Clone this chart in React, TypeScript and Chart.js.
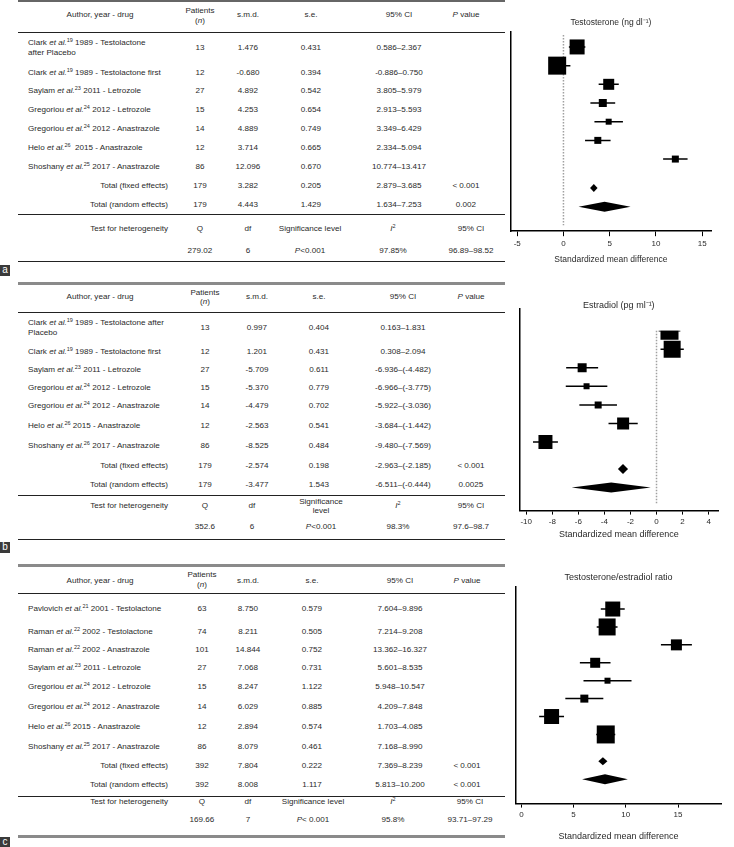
import React, { useEffect, useRef } from "react";
import { Chart, registerables } from "chart.js";
Chart.register(...registerables);

const FONT = "'Liberation Sans', Arial, Helvetica, sans-serif";
const TXT = "#2a2a2a";

// ---------- Panel a : Testosterone ----------
const A_AUTHORS = ["Clark", "Clark", "Saylam", "Gregoriou", "Gregoriou", "Helo", "Shoshany"];
const A_REFS = ["19", "19", "23", "24", "24", "26", "25"];
const A_DESC = ["1989 - Testolactone\nafter Placebo", "1989 - Testolactone first", "2011 - Letrozole", "2012 - Letrozole", "2012 - Anastrazole", " 2015 - Anastrazole", "2017 - Anastrazole"];
const A_N = [13, 12, 27, 15, 14, 12, 86];
const A_SMD = [1.476, -0.68, 4.892, 4.253, 4.889, 3.714, 12.096];
const A_SE = [0.431, 0.394, 0.542, 0.654, 0.749, 0.665, 0.67];
const A_LO = [0.586, -0.886, 3.805, 2.913, 3.349, 2.334, 10.774];
const A_HI = [2.367, 0.75, 5.979, 5.593, 6.429, 5.094, 13.417];
const A_TOT_N = [179, 179];
const A_TOT_SMD = [3.282, 4.443];
const A_TOT_SE = [0.205, 1.429];
const A_TOT_LO = [2.879, 1.634];
const A_TOT_HI = [3.685, 7.253];
const A_TOT_P = ["< 0.001", "0.002"];
const A_HET = ["279.02", "6", "P<0.001", "97.85%", "96.89–98.52"];
const A_TICKS = [-5, 0, 5, 10, 15];
const A_TITLE = "Testosterone (ng dl⁻¹)";

// ---------- Panel b : Estradiol ----------
const B_AUTHORS = ["Clark", "Clark", "Saylam", "Gregoriou", "Gregoriou", "Helo", "Shoshany"];
const B_REFS = ["19", "19", "23", "24", "24", "26", "26"];
const B_DESC = ["1989 - Testolactone after\nPlacebo", "1989 - Testolactone first", "2011 - Letrozole", "2012 - Letrozole", "2012 - Anastrazole", "2015 - Anastrazole", "2017 - Anastrazole"];
const B_N = [13, 12, 27, 15, 14, 12, 86];
const B_SMD = [0.997, 1.201, -5.709, -5.37, -4.479, -2.563, -8.525];
const B_SE = [0.404, 0.431, 0.611, 0.779, 0.702, 0.541, 0.484];
const B_LO = [0.163, 0.308, -6.936, -6.966, -5.922, -3.684, -9.48];
const B_HI = [1.831, 2.094, -4.482, -3.775, -3.036, -1.442, -7.569];
const B_TOT_N = [179, 179];
const B_TOT_SMD = [-2.574, -3.477];
const B_TOT_SE = [0.198, 1.543];
const B_TOT_LO = [-2.963, -6.511];
const B_TOT_HI = [-2.185, -0.444];
const B_TOT_P = ["< 0.001", "0.0025"];
const B_HET = ["352.6", "6", "P<0.001", "98.3%", "97.6–98.7"];
const B_TICKS = [-10, -8, -6, -4, -2, 0, 2, 4];
const B_TITLE = "Estradiol (pg ml⁻¹)";

// ---------- Panel c : Testosterone/estradiol ratio ----------
const C_AUTHORS = ["Pavlovich", "Raman", "Raman", "Saylam", "Gregoriou", "Gregoriou", "Helo", "Shoshany"];
const C_REFS = ["21", "22", "22", "23", "24", "24", "26", "25"];
const C_DESC = ["2001 - Testolactone", "2002 - Testolactone", "2002 - Anastrazole", "2011 - Letrozole", "2012 - Letrozole", "2012 - Anastrazole", "2015 - Anastrazole", "2017 - Anastrazole"];
const C_N = [63, 74, 101, 27, 15, 14, 12, 86];
const C_SMD = [8.75, 8.211, 14.844, 7.068, 8.247, 6.029, 2.894, 8.079];
const C_SE = [0.579, 0.505, 0.752, 0.731, 1.122, 0.885, 0.574, 0.461];
const C_LO = [7.604, 7.214, 13.362, 5.601, 5.948, 4.209, 1.703, 7.168];
const C_HI = [9.896, 9.208, 16.327, 8.535, 10.547, 7.848, 4.085, 8.99];
const C_TOT_N = [392, 392];
const C_TOT_SMD = [7.804, 8.008];
const C_TOT_SE = [0.222, 1.117];
const C_TOT_LO = [7.369, 5.813];
const C_TOT_HI = [8.239, 10.2];
const C_TOT_P = ["< 0.001", "< 0.001"];
const C_HET = ["169.66", "7", "P< 0.001", "95.8%", "93.71–97.29"];
const C_TICKS = [0, 5, 10, 15];
const C_TITLE = "Testosterone/estradiol ratio";

const TOT_LABELS = ["Total (fixed effects)", "Total (random effects)"];
const X_TITLE = "Standardized mean difference";

const PANELS = [
  { authors: A_AUTHORS, refs: A_REFS, desc: A_DESC, n: A_N, smd: A_SMD, se: A_SE, lo: A_LO, hi: A_HI, totN: A_TOT_N, totSmd: A_TOT_SMD, totSe: A_TOT_SE, totLo: A_TOT_LO, totHi: A_TOT_HI, totP: A_TOT_P, het: A_HET, ticks: A_TICKS, title: A_TITLE },
  { authors: B_AUTHORS, refs: B_REFS, desc: B_DESC, n: B_N, smd: B_SMD, se: B_SE, lo: B_LO, hi: B_HI, totN: B_TOT_N, totSmd: B_TOT_SMD, totSe: B_TOT_SE, totLo: B_TOT_LO, totHi: B_TOT_HI, totP: B_TOT_P, het: B_HET, ticks: B_TICKS, title: B_TITLE },
  { authors: C_AUTHORS, refs: C_REFS, desc: C_DESC, n: C_N, smd: C_SMD, se: C_SE, lo: C_LO, hi: C_HI, totN: C_TOT_N, totSmd: C_TOT_SMD, totSe: C_TOT_SE, totLo: C_TOT_LO, totHi: C_TOT_HI, totP: C_TOT_P, het: C_HET, ticks: C_TICKS, title: C_TITLE },
];

// ---------- layout / style (not data) ----------
const TABLE_LAYOUT = [
  {
    top: 0, topH: 2, topColor: "#666", header: 15, patients: 16, patientsLH: 10, headerLine: 32,
    rows: [48, 73, 91, 110, 129, 148, 167], totals: [186, 205], hetLine: 214, hetHead: 229, hetVal: 251,
    bottom: 261, bottomGrey: false, label: "a", labelY: 265,
    cols: { name: 28, totRight: 168, author: 100, n: 200, smd: 248, se: 311, ci: 399, p: 466 },
    hetCols: [200, 248, 310, 393, 471], sigTwoLine: false,
  },
  {
    top: 282, topH: 3, topColor: "#8a8a8a", header: 297, patients: 296.5, patientsLH: 9.5, headerLine: 312,
    rows: [328, 352, 370, 388, 406, 426, 446], totals: [466, 485], hetLine: 495, hetHead: 506, hetVal: 527,
    bottom: 539, bottomGrey: false, label: "b", labelY: 542,
    cols: { name: 28, totRight: 168, author: 100, n: 205, smd: 257, se: 319, ci: 403, p: 471 },
    hetCols: [205, 252, 321, 398, 471], sigTwoLine: true,
  },
  {
    top: 564, topH: 3, topColor: "#8a8a8a", header: 581, patients: 580, patientsLH: 10, headerLine: 593,
    rows: [609, 632, 650, 668, 687, 707, 727, 747], totals: [766, 785], hetLine: 796, hetHead: 802, hetVal: 820,
    bottom: 835, bottomGrey: true, label: "c", labelY: 837,
    cols: { name: 28, totRight: 168, author: 100, n: 202, smd: 248, se: 312, ci: 400, p: 467 },
    hetCols: [202, 248, 313, 393, 470], sigTwoLine: false,
  },
];

const CHART_LAYOUT = [
  {
    left: 498, top: 10, width: 236, height: 257, pad: { left: 12, right: 23, top: 0, bottom: 0 },
    titleSize: 8.5, titlePad: { top: 8, bottom: 3.8 }, xTitleSize: 8.5, xTitlePad: { top: 3, bottom: 2 },
    tickLength: 5, tickPad: 3, xMin: -5.7, xMax: 15.95, yMin: -0.8, yMax: 9.86, gap: 0.55,
    boxes: [15, 18, 11, 8, 6, 7, 7], dh: [4, 5], zero: { top: 3, bottom: 6 }, clipTop: 0,
  },
  {
    left: 507, top: 296, width: 227, height: 245, pad: { left: 12, right: 16, top: 0, bottom: 0 },
    titleSize: 9, titlePad: { top: 2.6, bottom: -2.4 }, xTitleSize: 9, xTitlePad: { top: 1, bottom: 1 },
    tickLength: 4, tickPad: 2, xMin: -10.5, xMax: 4.72, yMin: -1.18, yMax: 9.69, gap: 0.45,
    boxes: [18, 17, 9, 6, 7, 12, 14], dh: [5, 5], zero: { top: 22, bottom: 6 }, clipTop: 22,
  },
  {
    left: 503, top: 568, width: 231, height: 274, pad: { left: 12, right: 0, top: 0, bottom: 0 },
    titleSize: 9, titlePad: { top: 4.6, bottom: 3.6 }, xTitleSize: 9, xTitlePad: { top: 10, bottom: 0 },
    tickLength: 4, tickPad: 2, xMin: -0.54, xMax: 19.14, yMin: -1.23, yMax: 10.86, gap: 0.5,
    boxes: [15, 17, 11, 10, 6, 8, 15, 18], dh: [4, 5], zero: null, clipTop: 0,
  },
];

function fmtCI(lo: number, hi: number) {
  const h = hi < 0 ? `(${hi.toFixed(3)})` : hi.toFixed(3);
  return `${lo.toFixed(3)}–${h}`;
}

function T({ x, y, align = "center", lh = 10, children }: any) {
  const tx = align === "center" ? "-50%" : align === "right" ? "-100%" : "0";
  return (
    <div
      style={{
        position: "absolute", left: x, top: y, transform: `translate(${tx}, -50%)`,
        whiteSpace: "pre", lineHeight: `${lh}px`, textAlign: align as any,
      }}
    >
      {children}
    </div>
  );
}

const Sup = ({ children }: any) => (
  <span style={{ fontSize: "5.5px", position: "relative", top: "-3px" }}>{children}</span>
);

function PText({ s }: { s: string }) {
  if (s.startsWith("P")) return <><i>P</i>{s.slice(1)}</>;
  return <>{s}</>;
}

function Table({ d, L }: any) {
  const c = L.cols;
  const line = (y: number, h: number, color: string) => (
    <div style={{ position: "absolute", left: 18, width: 487, top: y, height: h, background: color }} />
  );
  return (
    <>
      {line(L.top, L.topH, L.topColor)}
      {line(L.headerLine, 1, "#222")}
      {line(L.hetLine, 1, "#222")}
      {L.bottomGrey ? line(L.bottom, 3, "#8a8a8a") : line(L.bottom, 1, "#222")}
      <T x={c.author} y={L.header}>Author, year - drug</T>
      <T x={c.n} y={L.patients} lh={L.patientsLH}>{"Patients\n("}<i>n</i>{")"}</T>
      <T x={c.smd} y={L.header}>s.m.d.</T>
      <T x={c.se} y={L.header}>s.e.</T>
      <T x={c.ci} y={L.header}>95% CI</T>
      <T x={c.p} y={L.header}><i>P</i> value</T>
      {d.authors.map((a: string, i: number) => (
        <React.Fragment key={i}>
          <T x={c.name} y={L.rows[i]} align="left">
            {a} <i>et al.</i><Sup>{d.refs[i]}</Sup> {d.desc[i]}
          </T>
          <T x={c.n} y={L.rows[i]}>{String(d.n[i])}</T>
          <T x={c.smd} y={L.rows[i]}>{d.smd[i].toFixed(3)}</T>
          <T x={c.se} y={L.rows[i]}>{d.se[i].toFixed(3)}</T>
          <T x={c.ci} y={L.rows[i]}>{fmtCI(d.lo[i], d.hi[i])}</T>
        </React.Fragment>
      ))}
      {TOT_LABELS.map((t, k) => (
        <React.Fragment key={"t" + k}>
          <T x={c.totRight} y={L.totals[k]} align="right">{t}</T>
          <T x={c.n} y={L.totals[k]}>{String(d.totN[k])}</T>
          <T x={c.smd} y={L.totals[k]}>{d.totSmd[k].toFixed(3)}</T>
          <T x={c.se} y={L.totals[k]}>{d.totSe[k].toFixed(3)}</T>
          <T x={c.ci} y={L.totals[k]}>{fmtCI(d.totLo[k], d.totHi[k])}</T>
          <T x={c.p} y={L.totals[k]}>{d.totP[k]}</T>
        </React.Fragment>
      ))}
      <T x={c.totRight} y={L.hetHead} align="right">Test for heterogeneity</T>
      <T x={L.hetCols[0]} y={L.hetHead}>Q</T>
      <T x={L.hetCols[1]} y={L.hetHead}>df</T>
      <T x={L.hetCols[2]} y={L.hetHead} lh={8.5}>{L.sigTwoLine ? "Significance\nlevel" : "Significance level"}</T>
      <T x={L.hetCols[3]} y={L.hetHead}><i>I</i><Sup>2</Sup></T>
      <T x={L.hetCols[4]} y={L.hetHead}>95% CI</T>
      {d.het.map((h: string, k: number) => (
        <T key={"h" + k} x={L.hetCols[k]} y={L.hetVal}><PText s={h} /></T>
      ))}
      <div
        style={{
          position: "absolute", left: 0, top: L.labelY, width: 10, height: 11, background: "#3a3a3a",
          color: "#fff", fontSize: "10px", lineHeight: "10px", textAlign: "center",
        }}
      >
        {L.label}
      </div>
    </>
  );
}

function ForestChart({ d, C }: any) {
  const ref = useRef<HTMLCanvasElement>(null);
  useEffect(() => {
    if (!ref.current) return;
    const n = d.smd.length;
    const totY = [n + C.gap, n + 1 + C.gap];
    const forest = {
      id: "forest",
      beforeDatasetsDraw(chart: any) {
        const { ctx, chartArea, scales } = chart;
        const x = scales.x, y = scales.y;
        ctx.save();
        if (C.zero) {
          const px = x.getPixelForValue(0);
          ctx.strokeStyle = "#a0a0a0";
          ctx.lineWidth = 1.5;
          ctx.setLineDash([1.5, 1.5]);
          ctx.beginPath();
          ctx.moveTo(px, chartArea.top + C.zero.top);
          ctx.lineTo(px, chartArea.bottom - C.zero.bottom);
          ctx.stroke();
          ctx.setLineDash([]);
        }
        ctx.beginPath();
        ctx.rect(chartArea.left - 40, chartArea.top + C.clipTop, chartArea.width + 80, chartArea.height + 40);
        ctx.clip();
        ctx.strokeStyle = "#000";
        ctx.lineWidth = 1.5;
        d.lo.forEach((lo: number, i: number) => {
          const yy = y.getPixelForValue(i);
          ctx.beginPath();
          ctx.moveTo(x.getPixelForValue(lo), yy);
          ctx.lineTo(x.getPixelForValue(d.hi[i]), yy);
          ctx.stroke();
        });
        ctx.restore();
      },
      afterDatasetsDraw(chart: any) {
        const { ctx, scales } = chart;
        const x = scales.x, y = scales.y;
        ctx.save();
        ctx.fillStyle = "#000";
        d.totSmd.forEach((m: number, k: number) => {
          const yy = y.getPixelForValue(totY[k]);
          const h = C.dh[k];
          ctx.beginPath();
          ctx.moveTo(x.getPixelForValue(d.totLo[k]), yy);
          ctx.lineTo(x.getPixelForValue(m), yy - h);
          ctx.lineTo(x.getPixelForValue(d.totHi[k]), yy);
          ctx.lineTo(x.getPixelForValue(m), yy + h);
          ctx.closePath();
          ctx.fill();
        });
        ctx.restore();
      },
    };
    const chart = new Chart(ref.current, {
      type: "scatter",
      data: {
        datasets: [
          {
            data: d.smd.map((v: number, i: number) => ({ x: v, y: i })),
            pointStyle: "rect",
            pointRadius: C.boxes.map((s: number) => s / Math.SQRT2),
            pointHoverRadius: C.boxes.map((s: number) => s / Math.SQRT2),
            backgroundColor: "#000",
            borderColor: "#000",
            borderWidth: 0,
            clip: C.clipTop ? { left: false, right: false, bottom: false, top: -C.clipTop } : false,
          } as any,
        ],
      },
      options: {
        responsive: false,
        animation: false,
        events: [],
        layout: { padding: C.pad },
        plugins: {
          legend: { display: false },
          tooltip: { enabled: false },
          title: {
            display: true, text: d.title, color: TXT, fullSize: false,
            font: { family: FONT, size: C.titleSize, weight: "normal" }, padding: C.titlePad,
          },
        },
        scales: {
          x: {
            type: "linear", min: C.xMin, max: C.xMax,
            afterBuildTicks: (s: any) => { s.ticks = d.ticks.map((v: number) => ({ value: v })); },
            ticks: {
              autoSkip: false, maxRotation: 0, padding: C.tickPad, color: TXT,
              font: { family: FONT, size: 8 }, callback: (v: any) => String(v),
            },
            grid: { display: true, drawOnChartArea: false, drawTicks: true, tickLength: C.tickLength, color: "#000", lineWidth: 1 },
            border: { display: true, color: "#000", width: 1.5 },
            title: {
              display: true, text: X_TITLE, color: TXT,
              font: { family: FONT, size: C.xTitleSize }, padding: C.xTitlePad,
            },
          },
          y: {
            type: "linear", reverse: true, min: C.yMin, max: C.yMax,
            ticks: { display: false },
            grid: { display: false, drawTicks: false },
            border: { display: true, color: "#000", width: 1.5 },
          },
        },
      } as any,
      plugins: [forest],
    });
    return () => chart.destroy();
  }, []);
  return (
    <canvas
      ref={ref}
      width={C.width}
      height={C.height}
      style={{ position: "absolute", left: C.left, top: C.top, width: C.width, height: C.height }}
    />
  );
}

export default function App() {
  return (
    <div
      style={{
        position: "absolute", left: 0, top: 0, width: 734, height: 847, background: "#fff",
        overflow: "hidden", fontFamily: FONT, fontSize: "8.1px", color: TXT,
      }}
    >
      {PANELS.map((p, i) => (
        <React.Fragment key={i}>
          <Table d={p} L={TABLE_LAYOUT[i]} />
          <ForestChart d={p} C={CHART_LAYOUT[i]} />
        </React.Fragment>
      ))}
    </div>
  );
}
